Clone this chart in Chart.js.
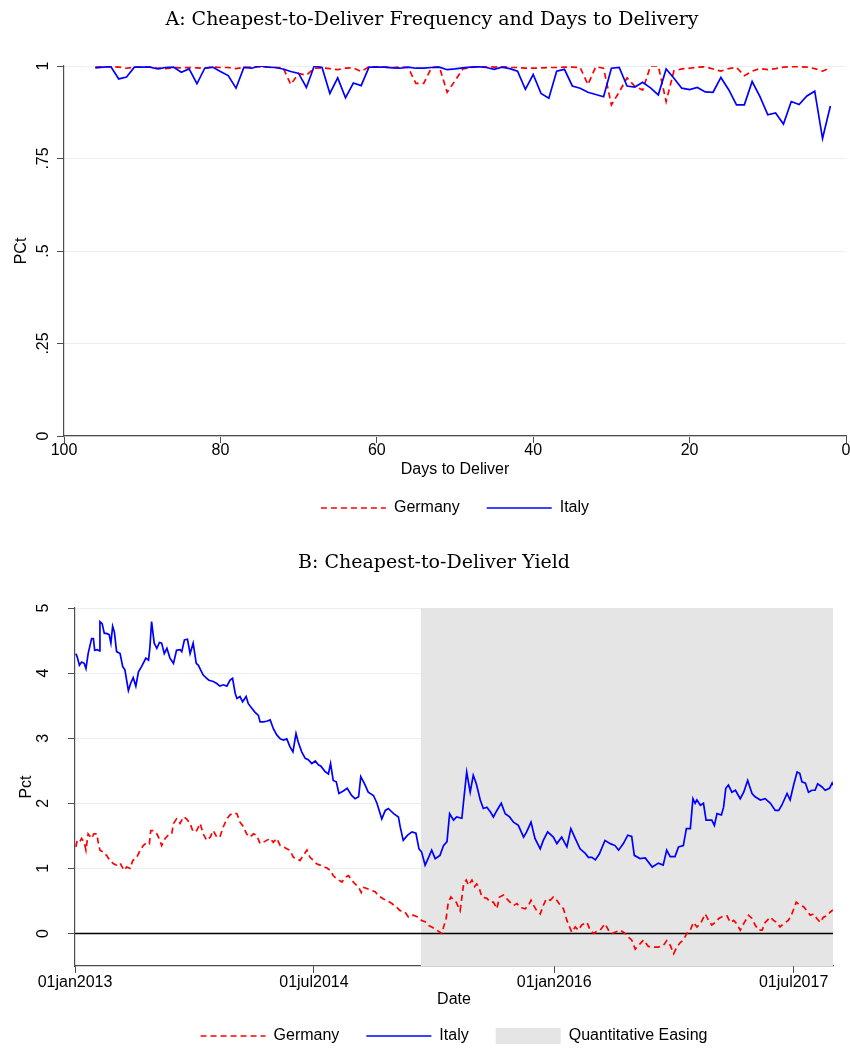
<!DOCTYPE html>
<html>
<head>
<meta charset="utf-8">
<script src="https://cdn.jsdelivr.net/npm/chart.js@4.4.1/dist/chart.umd.min.js"></script>
<style>
html, body { margin: 0; padding: 0; background: #fff; overflow: hidden; }
#wrapA { position: absolute; left: 0; top: 0; width: 850px; height: 526px; }
#wrapB { position: absolute; left: 0; top: 530px; width: 850px; height: 524px; }
</style>
</head>
<body>
<div id="wrapA"><canvas id="chartA" width="850" height="526"></canvas></div>
<div id="wrapB"><canvas id="chartB" width="850" height="524"></canvas></div>
<script>
// ---- Panel A: share of days each bond is cheapest-to-deliver, by days to delivery
const daysToDeliver = [96,95,94,93,92,91,90,89,88,87,86,85,84,83,82,81,80,79,78,77,
  76,75,74,73,72,71,70,69,68,67,66,65,64,63,62,61,60,59,58,57,
  56,55,54,53,52,51,50,49,48,47,46,45,44,43,42,41,40,39,38,37,
  36,35,34,33,32,31,30,29,28,27,26,25,24,23,22,21,20,19,18,17,
  16,15,14,13,12,11,10,9,8,7,6,5,4,3,2];
const ctdGermany = [0.997,0.998,0.999,0.997,0.994,0.997,0.997,0.997,0.994,0.993,
  0.996,0.995,0.996,0.995,0.994,0.997,0.996,0.996,0.993,0.996,
  0.997,0.998,0.997,0.996,0.996,0.950,0.980,0.975,0.994,0.995,
  0.993,0.990,0.994,0.995,0.985,0.998,0.998,0.997,0.996,0.997,
  0.996,0.953,0.953,0.996,0.998,0.929,0.960,0.992,0.996,0.998,
  0.998,0.997,0.999,0.996,0.996,0.994,0.994,0.995,0.996,0.996,
  0.997,0.997,0.996,0.950,0.998,0.994,0.895,0.930,0.968,0.945,
  0.935,1.000,1.000,0.904,0.987,0.992,0.994,0.997,0.998,0.992,
  0.986,0.993,0.996,0.974,0.986,0.993,0.990,0.993,0.997,0.998,
  0.998,0.997,0.993,0.986,0.995];
const ctdItaly = [0.995,0.997,0.998,0.965,0.970,0.997,0.997,0.997,0.992,0.996,
  0.997,0.983,0.992,0.952,0.994,0.997,0.985,0.974,0.940,0.996,
  0.994,1.000,0.997,0.996,0.992,0.985,0.980,0.942,1.000,0.996,
  0.926,0.968,0.914,0.954,0.947,0.997,0.997,0.997,0.995,0.994,
  0.997,0.994,0.994,0.996,0.997,0.990,0.992,0.995,0.997,0.998,
  0.996,0.991,0.997,0.993,0.986,0.937,0.977,0.926,0.913,0.986,
  0.991,0.946,0.940,0.929,0.923,0.917,0.994,0.996,0.946,0.943,
  0.956,0.941,0.922,0.992,0.967,0.940,0.936,0.942,0.930,0.929,
  0.969,0.936,0.895,0.895,0.958,0.917,0.868,0.873,0.843,0.904,
  0.896,0.919,0.932,0.804,0.892];
const yTicksA = [0, 0.25, 0.5, 0.75, 1];
const yTickLabelsA = ['0', '.25', '.5', '.75', '1'];

// ---- Panel B: CTD yield, x = days since 01jan2013
const itDays = [2,5,10,15,21,25,30,38,42,45,51,56,57,62,67,72,78,82,86,90,95,103,109,114,118,122,127,133,139,145,
  152,162,168,171,175,181,187,193,198,204,210,217,225,232,240,244,250,257,263,270,277,282,287,293,301,306,316,324,331,339,
  347,354,360,366,370,377,383,391,396,404,411,419,423,430,438,446,453,461,469,476,484,491,498,505,510,518,526,533,541,549,
  556,562,571,579,584,590,597,603,613,622,632,640,648,653,663,670,682,690,701,709,716,728,739,743,750,760,770,779,786,792,
  800,808,815,823,834,842,850,856,865,872,884,889,895,903,910,917,926,933,941,949,956,964,974,983,993,1002,1013,1025,1032,1042,
  1051,1063,1070,1080,1093,1101,1112,1124,1133,1143,1154,1166,1173,1181,1189,1198,1211,1223,1234,1242,1253,1263,1272,1278,1291,1303,1319,1333,1344,1352,
  1360,1371,1379,1390,1397,1406,1412,1417,1421,1429,1436,1442,1455,1461,1467,1477,1482,1487,1493,1501,1509,1520,1528,1537,1547,1554,1566,1577,1589,1600,
  1608,1615,1627,1634,1642,1650,1656,1661,1669,1676,1684,1691,1697,1707,1714,1724,1730,1732];
const itYield = [4.30,4.25,4.12,4.17,4.15,4.07,4.30,4.53,4.53,4.35,4.36,4.34,4.79,4.76,4.61,4.61,4.59,4.46,4.72,4.63,4.33,4.30,4.10,4.05,3.89,3.73,3.84,3.93,3.80,4.02,
  4.10,4.23,4.20,4.38,4.79,4.46,4.38,4.47,4.46,4.30,4.38,4.23,4.15,4.35,4.36,4.33,4.51,4.52,4.30,4.46,4.15,4.12,4.05,3.97,3.92,3.89,3.87,3.84,3.80,3.82,
  3.80,3.89,3.92,3.69,3.61,3.64,3.56,3.64,3.53,3.46,3.40,3.35,3.25,3.25,3.26,3.28,3.15,3.05,2.99,2.97,2.99,2.87,2.79,3.07,2.94,2.79,2.69,2.67,2.61,2.65,
  2.59,2.57,2.49,2.45,2.61,2.35,2.33,2.15,2.19,2.23,2.12,2.07,2.10,2.41,2.28,2.17,2.12,2.00,1.76,1.89,1.92,1.84,1.79,1.64,1.43,1.51,1.56,1.54,1.30,1.25,
  1.05,1.17,1.28,1.15,1.20,1.35,1.41,1.84,1.74,1.79,1.77,2.10,2.48,2.17,2.43,2.30,2.05,1.92,1.94,1.87,1.79,1.89,2.00,1.84,1.79,1.71,1.66,1.48,1.56,1.71,
  1.46,1.30,1.43,1.56,1.48,1.38,1.48,1.33,1.61,1.46,1.30,1.23,1.17,1.17,1.13,1.22,1.43,1.38,1.35,1.28,1.38,1.51,1.49,1.20,1.15,1.16,1.02,1.08,1.05,1.28,
  1.18,1.18,1.33,1.35,1.61,1.61,2.07,2.00,2.05,1.97,2.00,1.74,1.74,1.66,1.84,1.82,1.94,2.23,2.28,2.17,2.20,2.07,2.17,2.35,2.15,2.10,2.05,2.07,2.00,1.89,
  1.89,1.97,2.15,2.05,2.28,2.48,2.46,2.33,2.31,2.17,2.20,2.20,2.30,2.25,2.20,2.23,2.31,2.28];
const deDays = [2,5,11,15,21,25,30,38,43,50,53,57,65,72,80,88,95,103,112,118,126,132,141,149,156,164,170,173,179,187,
  192,198,206,213,221,225,232,240,248,255,263,270,278,286,293,301,309,316,324,331,339,347,354,362,370,377,385,392,400,408,
  415,423,430,438,446,453,461,469,476,484,491,499,507,514,522,530,537,545,552,560,568,575,583,590,598,610,617,625,632,640,
  648,654,658,667,678,686,693,705,712,724,735,743,754,762,773,785,792,800,808,815,827,838,848,853,859,865,871,880,888,894,
  899,907,913,918,924,930,941,949,956,964,970,979,987,994,1002,1010,1017,1029,1036,1042,1048,1055,1063,1070,1077,1086,1093,1101,1109,1116,
  1124,1135,1143,1150,1158,1170,1177,1185,1192,1200,1211,1219,1227,1238,1246,1257,1265,1272,1280,1291,1299,1310,1322,1333,1345,1352,1360,1368,1375,1383,
  1390,1398,1406,1413,1421,1429,1440,1448,1455,1463,1471,1482,1490,1497,1505,1512,1520,1528,1539,1547,1554,1562,1570,1577,1589,1596,1604,1611,1619,1630,
  1638,1648,1657,1665,1672,1680,1688,1695,1703,1710,1718,1726,1732];
const deYield = [1.33,1.43,1.41,1.46,1.40,1.28,1.53,1.46,1.53,1.53,1.40,1.28,1.25,1.20,1.12,1.07,1.05,1.08,0.97,1.02,1.00,1.12,1.17,1.28,1.35,1.40,1.38,1.58,1.58,1.53,
  1.46,1.35,1.46,1.51,1.53,1.69,1.76,1.69,1.79,1.76,1.69,1.56,1.58,1.69,1.53,1.43,1.48,1.58,1.48,1.48,1.64,1.76,1.82,1.85,1.84,1.71,1.64,1.53,1.48,1.53,
  1.51,1.38,1.40,1.43,1.46,1.40,1.46,1.35,1.33,1.30,1.28,1.17,1.15,1.12,1.20,1.28,1.17,1.12,1.07,1.05,1.02,1.01,0.97,0.89,0.84,0.79,0.86,0.89,0.82,0.76,
  0.71,0.63,0.71,0.69,0.66,0.64,0.58,0.53,0.51,0.46,0.40,0.35,0.33,0.25,0.28,0.25,0.20,0.18,0.12,0.10,0.05,0.00,0.23,0.48,0.56,0.51,0.48,0.35,0.76,0.82,
  0.74,0.82,0.72,0.76,0.69,0.56,0.54,0.48,0.48,0.38,0.56,0.59,0.53,0.48,0.43,0.46,0.40,0.38,0.43,0.51,0.43,0.35,0.30,0.43,0.53,0.51,0.56,0.51,0.43,0.38,
  0.20,0.02,0.10,0.05,0.13,0.17,0.05,0.00,0.03,0.05,0.15,0.05,0.00,0.03,0.05,0.00,-0.06,-0.10,-0.24,-0.16,-0.10,-0.20,-0.21,-0.21,-0.18,-0.11,-0.18,-0.31,-0.21,-0.14,
  -0.10,0.00,0.05,0.17,0.10,0.15,0.30,0.20,0.13,0.17,0.23,0.27,0.27,0.17,0.20,0.15,0.05,0.15,0.28,0.23,0.13,0.05,0.05,0.17,0.25,0.20,0.17,0.10,0.15,0.20,
  0.30,0.48,0.43,0.41,0.35,0.28,0.30,0.23,0.17,0.25,0.27,0.33,0.36];
const qePeriod = [790, 1732];           // 02mar2015 .. end of sample
const yTicksB = [0, 1, 2, 3, 4, 5];
const yTickLabelsB = ['0', '1', '2', '3', '4', '5'];
const dateTicks = [0, 546, 1095, 1642];
const dateTickLabels = ['01jan2013', '01jul2014', '01jan2016', '01jul2017'];

const SANS = '"Liberation Sans", Arial, Helvetica, sans-serif';
const SERIF = '"DejaVu Serif", "Liberation Serif", serif';
const axisColor = '#4d4d4d';
const gridColor = '#e9f0f2';
Chart.defaults.font.family = SANS;
Chart.defaults.font.size = 16;
Chart.defaults.color = '#000';

// y labels in the source are turned 90 degrees, drawn here at the scale's own tick pixels
const rotatedYLabels = {
  id: 'rotatedYLabels',
  afterDraw(chart, args, opts) {
    const sc = chart.scales.y, ctx = chart.ctx;
    ctx.save();
    ctx.font = '16px ' + SANS;
    ctx.fillStyle = '#000';
    ctx.textAlign = 'center';
    ctx.textBaseline = 'middle';
    opts.values.forEach((v, i) => {
      ctx.save();
      ctx.translate(opts.x, sc.getPixelForValue(v));
      ctx.rotate(-Math.PI / 2);
      ctx.fillText(opts.labels[i], 0, 0);
      ctx.restore();
    });
    ctx.restore();
  }
};

// black line at zero, on top of the shading but under the series
const zeroLine = {
  id: 'zeroLine',
  afterDatasetDraw(chart, args) {
    if (args.index !== 2) return;
    const {ctx, chartArea: a, scales: {y}} = chart;
    const py = Math.round(y.getPixelForValue(0)) + 0.5;
    ctx.save();
    ctx.strokeStyle = '#000';
    ctx.lineWidth = 1.4;
    ctx.beginPath();
    ctx.moveTo(a.left, py);
    ctx.lineTo(a.right, py);
    ctx.stroke();
    ctx.restore();
  }
};

function legendOpts() {
  return {
    position: 'bottom',
    fullSize: false,
    labels: {
      usePointStyle: true,
      pointStyleWidth: 65,
      boxHeight: 16,
      padding: 27,
      font: { size: 16 },
      color: '#000',
      generateLabels: chart => chart.data.datasets.map((ds, i) => ({
        text: ds.label,
        datasetIndex: i,
        hidden: false,
        fontColor: '#000',
        strokeStyle: ds.borderColor,
        fillStyle: ds.backgroundColor,
        lineWidth: ds.borderWidth,
        lineDash: ds.borderDash || [],
        pointStyle: ds.legendStyle
      }))
    }
  };
}

function toPoints(xs, ys) {
  return xs.map((x, i) => ({ x: x, y: ys[i] }));
}

new Chart(document.getElementById('chartA'), {
  type: 'line',
  data: {
    datasets: [
      { label: 'Germany', data: toPoints(daysToDeliver, ctdGermany), borderColor: '#ff0000', backgroundColor: '#ff0000',
        borderWidth: 1.7, borderDash: [6, 4], pointRadius: 0, tension: 0, order: 1, legendStyle: 'line' },
      { label: 'Italy', data: toPoints(daysToDeliver, ctdItaly), borderColor: '#0000ff', backgroundColor: '#0000ff',
        borderWidth: 1.7, pointRadius: 0, tension: 0, order: 0, legendStyle: 'line' }
    ]
  },
  options: {
    responsive: false,
    animation: false,
    devicePixelRatio: 1,
    layout: { padding: { left: 18, right: 4, top: 0, bottom: 0 } },
    scales: {
      x: {
        type: 'linear', reverse: true, min: 0, max: 100,
        ticks: { stepSize: 20, maxRotation: 0, autoSkip: false, padding: -2 },
        grid: { drawOnChartArea: false, tickLength: 7, tickColor: axisColor },
        border: { color: axisColor, width: 1.2 },
        title: { display: true, text: 'Days to Deliver', padding: { top: 0, bottom: -6.6 } },
        afterFit: s => { s.height = 37; }
      },
      y: {
        min: 0, max: 1,
        afterBuildTicks: s => { s.ticks = yTicksA.map(v => ({ value: v })); },
        ticks: { display: false },
        grid: { color: gridColor, tickLength: 7, tickColor: axisColor },
        border: { color: axisColor, width: 1.2 },
        title: { display: true, text: 'PCt', padding: { top: -5.6, bottom: 0 } },
        afterFit: s => { s.width = 46; }
      }
    },
    plugins: {
      title: { display: true, text: 'A: Cheapest-to-Deliver Frequency and Days to Delivery',
               font: { family: SERIF, size: 19, weight: 'normal' }, color: '#000',
               padding: { top: 8.6, bottom: 34.6 } },
      legend: legendOpts(),
      tooltip: { enabled: false },
      rotatedYLabels: { x: 44, values: yTicksA, labels: yTickLabelsA }
    }
  },
  plugins: [rotatedYLabels]
});

new Chart(document.getElementById('chartB'), {
  type: 'line',
  data: {
    datasets: [
      { label: 'Germany', data: toPoints(deDays, deYield), borderColor: '#ff0000', backgroundColor: '#ff0000',
        borderWidth: 1.7, borderDash: [6, 4], pointRadius: 0, tension: 0, order: 1, legendStyle: 'line' },
      { label: 'Italy', data: toPoints(itDays, itYield), borderColor: '#0000ff', backgroundColor: '#0000ff',
        borderWidth: 1.7, pointRadius: 0, tension: 0, order: 0, legendStyle: 'line' },
      { label: 'Quantitative Easing', data: qePeriod.map(d => ({ x: d, y: yTicksB[yTicksB.length - 1] })),
        borderColor: '#e5e5e5', backgroundColor: '#e5e5e5', borderWidth: 0, pointRadius: 0,
        fill: 'start', order: 10, legendStyle: 'rect' }
    ]
  },
  options: {
    responsive: false,
    animation: false,
    devicePixelRatio: 1,
    layout: { padding: { left: 35, right: 17, top: 0, bottom: 0 } },
    scales: {
      x: {
        type: 'linear', min: 0, max: qePeriod[1],
        afterBuildTicks: s => { s.ticks = dateTicks.map(v => ({ value: v })); },
        ticks: { maxRotation: 0, autoSkip: false, padding: 0,
                 callback: v => dateTickLabels[dateTicks.indexOf(v)] },
        grid: { drawOnChartArea: false, tickLength: 7, tickColor: axisColor },
        border: { color: axisColor, width: 1.2 },
        title: { display: true, text: 'Date', padding: { top: 0, bottom: -8.6 } },
        afterFit: s => { s.height = 35; }
      },
      y: {
        min: -0.5, max: 5,
        afterBuildTicks: s => { s.ticks = yTicksB.map(v => ({ value: v })); },
        ticks: { display: false },
        grid: { color: gridColor, tickLength: 7, tickColor: axisColor },
        border: { color: axisColor, width: 1.2 },
        title: { display: true, text: 'Pct', padding: { top: -17.6, bottom: 0 } },
        afterFit: s => { s.width = 40; }
      }
    },
    plugins: {
      title: { display: true, text: 'B: Cheapest-to-Deliver Yield',
               font: { family: SERIF, size: 19, weight: 'normal' }, color: '#000',
               padding: { top: 21.6, bottom: 33.6 } },
      legend: legendOpts(),
      tooltip: { enabled: false },
      rotatedYLabels: { x: 44, values: yTicksB, labels: yTickLabelsB }
    }
  },
  plugins: [rotatedYLabels, zeroLine]
});
</script>
</body>
</html>
